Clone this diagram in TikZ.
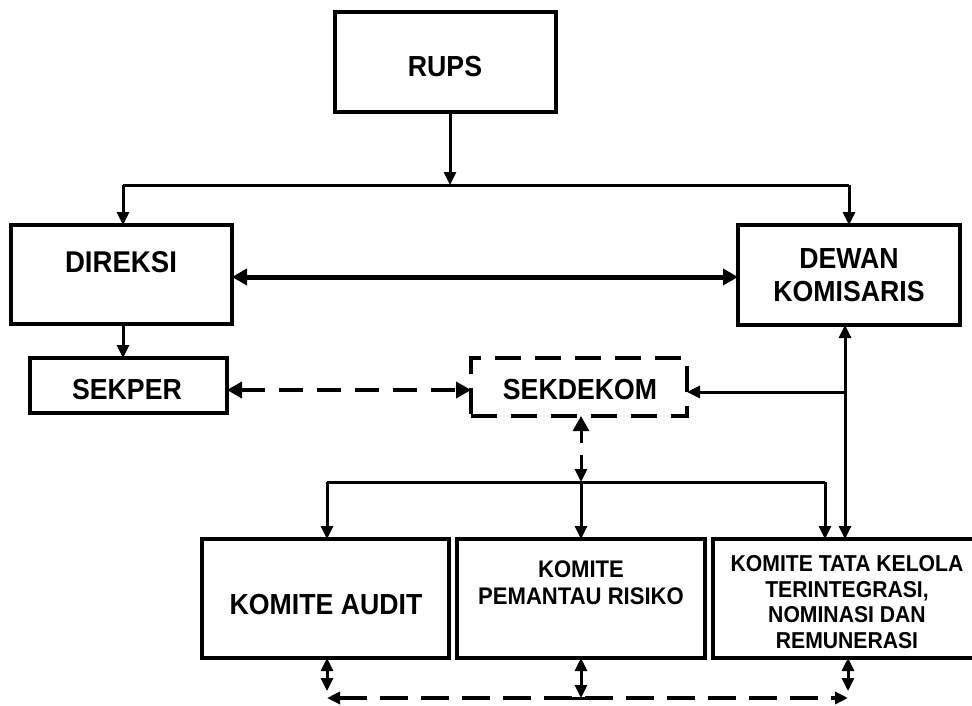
\documentclass[tikz,border=0pt]{standalone}
\usepackage{fontspec}
\setmainfont{Liberation Sans}
\newfontfamily\condfont[FakeStretch=0.92]{Liberation Sans}
\usetikzlibrary{arrows.meta}
\begin{document}
\begin{tikzpicture}[x=1pt,y=-1pt,
  box/.style={draw, line width=4.5pt, rectangle, inner sep=0pt, outer sep=0pt},
  dbox/.style={draw, line width=4.5pt, rectangle, inner sep=0pt, outer sep=0pt, dash pattern=on 26pt off 14pt},
  big/.style={font=\condfont\bfseries\fontsize{29}{33}\selectfont, align=center, inner sep=0pt},
  mid/.style={font=\condfont\bfseries\fontsize{24}{27}\selectfont, align=center, inner sep=0pt},
  small/.style={font=\condfont\bfseries\fontsize{23}{25.5}\selectfont, align=center, inner sep=0pt},
  conn/.style={draw, line width=3pt},
  thk/.style={draw, line width=5pt},
  dconn/.style={draw, line width=4.5pt, dash pattern=on 24pt off 14pt},
  tip/.tip={Triangle[length=13pt,width=12pt]},
  btip/.tip={Triangle[length=15pt,width=16pt]}
]
\useasboundingbox (0,0) rectangle (972,705);
\fill[white] (0,0) rectangle (972,705);

% boxes
\node[box, minimum width=221pt, minimum height=100pt] (rups) at (445.5,62) {};
\node[box, minimum width=221pt, minimum height=99pt] (direksi) at (121.5,274.5) {};
\node[box, minimum width=222pt, minimum height=100pt] (dewan) at (849,275) {};
\node[box, minimum width=197pt, minimum height=55pt] (sekper) at (128.5,385.5) {};
\node[dbox, minimum width=216pt, minimum height=58pt] (sekdekom) at (579,387) {};
\node[box, minimum width=247pt, minimum height=119pt] (audit) at (325.5,598.5) {};
\node[box, minimum width=248pt, minimum height=119pt] (pemantau) at (581,598.5) {};
\node[box, minimum width=272pt, minimum height=119pt] (tata) at (849,598.5) {};

% labels
\node[big] (rupsT) at (445,67) {RUPS};
\node[big, font=\condfont\bfseries\fontsize{30}{33}\selectfont] (direksiT) at (121,262) {DIREKSI};
\node[big] (dewanT) at (849,275) {DEWAN\\KOMISARIS};
\node[big] (sekperT) at (127,390) {SEKPER};
\node[big] (sekdekomT) at (580,390) {SEKDEKOM};
\node[big] (auditT) at (326,605) {KOMITE AUDIT};
\node[mid] (pemantauT) at (581,583) {KOMITE\\PEMANTAU RISIKO};
\node[small] (tataT) at (847,602) {KOMITE TATA KELOLA\\TERINTEGRASI,\\NOMINASI DAN\\REMUNERASI};

% coordinates
\coordinate (bus) at (450,185);
\coordinate (busL) at (123,185);
\coordinate (busR) at (849,185);
\coordinate (hy) at (0,277);
\coordinate (sy) at (0,390);
\coordinate (vx) at (845,392);
\coordinate (skA) at (581,443);
\coordinate (skB) at (581,455);
\coordinate (bl) at (327,482);
\coordinate (bm) at (581,482);
\coordinate (br) at (825,482);
\coordinate (dl) at (327,698);
\coordinate (dm) at (581,698);
\coordinate (dr) at (848,698);
\coordinate (dl2) at (327,691);
\coordinate (dr2) at (848,691);
\coordinate (tl) at (565,698);
\coordinate (tr) at (597,698);

% RUPS to bus
\draw[conn,-{tip}] (rups.south -| bus) -- (bus);
\draw[conn] (busL) -- (busR);
\draw[conn,-{tip}] (busL) -- (busL |- direksi.north);
\draw[conn,-{tip}] (busR) -- (busR |- dewan.north);

% Direksi <-> Dewan
\draw[thk,{btip}-{btip}] (direksi.east |- hy) -- (dewan.west |- hy);

% Direksi -> Sekper
\draw[conn,-{tip}] (direksi.south -| busL) -- (sekper.north -| busL);

% Sekper <-> Sekdekom
\draw[dconn,{btip}-{btip}] (sekper.east |- sy) -- (sekdekom.west |- sy);

% Dewan <-> Tata kelola, feed to Sekdekom
\draw[conn,{tip}-{tip}] (dewan.south -| vx) -- (tata.north -| vx);
\draw[conn,-{tip}] (vx) -- (vx -| sekdekom.east);

% Sekdekom <-> committees bus
\draw[conn,-{btip}] (skA) -- (sekdekom.south -| skA);
\draw[conn,-{tip}] (skB) -- (bm);
\draw[conn] (bl) -- (br);
\draw[conn,-{tip}] (bl) -- (bl |- audit.north);
\draw[conn,-{tip}] (bm) -- (bm |- pemantau.north);
\draw[conn,-{tip}] (br) -- (br |- tata.north);

% bottom links
\draw[dconn,dash pattern=on 28pt off 13pt,{tip}-{tip}] (dl) -- (dr);
\draw[conn,{tip}-{tip}] (audit.south -| dl) -- (dl2);
\draw[conn,{tip}-{tip}] (pemantau.south -| dm) -- (dm);
\draw[conn] (tl) -- (tr);
\draw[conn,{tip}-{tip}] (tata.south -| dr) -- (dr2);
\end{tikzpicture}
\end{document}
